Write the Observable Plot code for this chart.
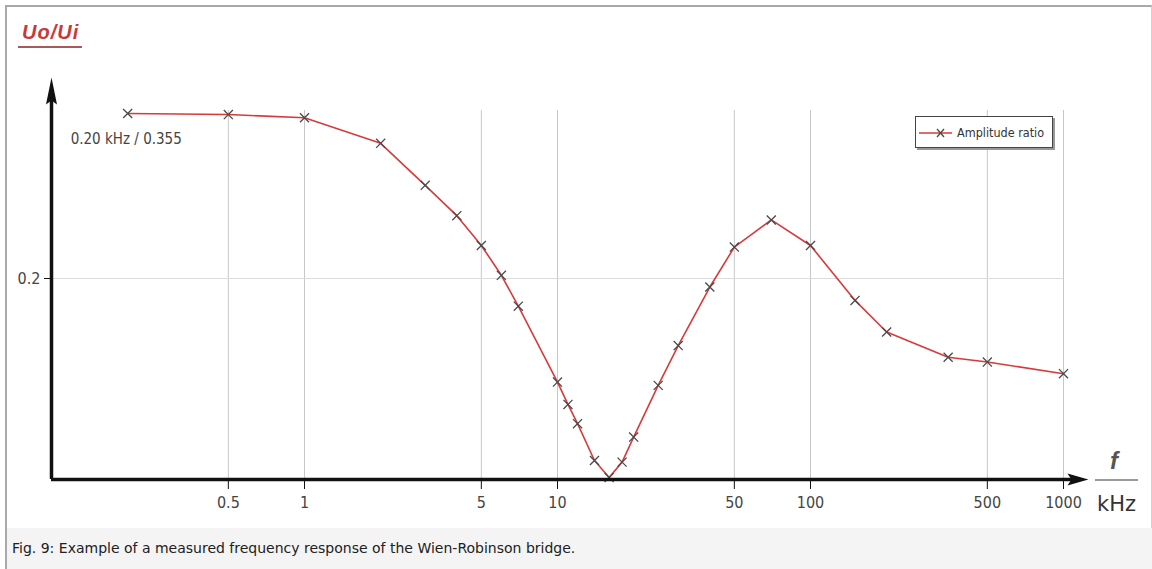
<!DOCTYPE html>
<html>
<head>
<meta charset="utf-8">
<script src="https://cdn.jsdelivr.net/npm/d3@7"></script>
<script src="https://cdn.jsdelivr.net/npm/@observablehq/plot@0.6"></script>
<style>
  html, body { margin: 0; padding: 0; background: #fff; }
  body { width: 1152px; height: 569px; position: relative; overflow: hidden; }
  .narrow { font-family: "Liberation Sans Narrow", "DejaVu Sans Condensed", "Liberation Sans", sans-serif; }
  #frame { position: absolute; left: 5px; top: 5px; width: 1147px; height: 564px; box-sizing: border-box;
           border-left: 2px solid #a9a9a9; border-top: 2px solid #a9a9a9; border-right: 1px solid #d0d0d0; }
  #title { position: absolute; left: 22px; top: 22px; font: italic bold 20px/1 "Liberation Sans", sans-serif;
           letter-spacing: 1px; color: #c83a3a; }
  #titleRule { position: absolute; left: 18px; top: 46px; width: 64px; height: 2px; background: #a85a5a; }
  #chart { position: absolute; left: 7px; top: 62px; }
  #legend { position: absolute; left: 915px; top: 116px; width: 138px; height: 32px; box-sizing: border-box;
            border: 1px solid #444; box-shadow: 2px 2px 0 #999; background: #fff; }
  #legend svg { position: absolute; left: 1px; top: 0; }
  #legend span { position: absolute; left: 41px; top: 8px; font-size: 12.5px; line-height: 15px; color: #333; white-space: nowrap; }
  #fLabel { position: absolute; left: 1110px; top: 449px; font: italic bold 24px/1 "Liberation Sans", sans-serif; color: #555; }
  #fRule { position: absolute; left: 1095px; top: 479px; width: 43px; height: 2px; background: #9a9a9a; }
  #unit { position: absolute; left: 1097px; top: 494px; font: 21px/1 "DejaVu Sans", sans-serif; color: #333; }
  #caption { position: absolute; left: 7px; top: 528px; width: 1145px; height: 41px; background: #f4f4f4;
             font: 14px/41px "DejaVu Sans", sans-serif; color: #202122; padding-left: 5px; box-sizing: border-box; }
</style>
</head>
<body>
<div id="frame"></div>
<div id="title">Uo/Ui</div>
<div id="titleRule"></div>
<div id="chart"></div>
<div id="legend" class="narrow"></div>
<div id="fLabel">f</div>
<div id="fRule"></div>
<div id="unit">kHz</div>
<div id="caption">Fig. 9: Example of a measured frequency response of the Wien-Robinson bridge.</div>
<script>
// ---- data ----
const freqKHz = [0.2, 0.5, 1, 2, 3, 4, 5, 6, 7, 10, 11, 12, 14, 16, 18, 20, 25, 30, 40, 50, 70, 100, 150, 200, 350, 500, 1000];
const amplitudeRatio = [0.355, 0.354, 0.351, 0.327, 0.2875, 0.259, 0.231, 0.203, 0.174, 0.1027, 0.0817, 0.0636, 0.029, 0.013,
                        0.0275, 0.051, 0.0996, 0.137, 0.192, 0.2295, 0.255, 0.231, 0.1794, 0.1497, 0.126, 0.1215, 0.1106];
const xTicks = [0.5, 1, 5, 10, 50, 100, 500, 1000];
const xTickLabels = ["0.5", "1", "5", "10", "50", "100", "500", "1000"];
const yTicks = [0.2];
const yTickLabels = ["0.2"];
const seriesName = "Amplitude ratio";

// axis extents (domain of the drawing and arrow tips)
const xDomain = [0.1, 1000];
const yDomain = [0.01118, 0.35782];
const xArrowTip = 1255;
const yArrowTip = 0.3888;

const data = freqKHz.map((f, i) => ({f, v: amplitudeRatio[i]}));
const first = data[0];
const xTickData = xTicks.map((t, i) => ({t, label: xTickLabels[i]}));

const arrowUp = {draw(ctx) { ctx.moveTo(0, 0); ctx.lineTo(5.5, 27); ctx.lineTo(0, 23); ctx.lineTo(-5.5, 27); ctx.closePath(); }};
const arrowRight = {draw(ctx) { ctx.moveTo(0, 0); ctx.lineTo(-21, -6); ctx.lineTo(-17, 0); ctx.lineTo(-21, 6); ctx.closePath(); }};

const narrowFont = '"Liberation Sans Narrow", "DejaVu Sans Condensed", "Liberation Sans", sans-serif';

const chart = Plot.plot({
  width: 1144,
  height: 466,
  marginLeft: 44,
  marginRight: 88,
  marginTop: 48,
  marginBottom: 49,
  x: {type: "log", domain: xDomain},
  y: {domain: yDomain},
  style: {fontFamily: narrowFont, fontSize: "16px", color: "#111", background: "transparent", overflow: "visible"},
  marks: [
    Plot.gridX(xTicks, {stroke: "#c8c8c8", strokeOpacity: 1}),
    Plot.gridY(yTicks, {stroke: "#dcdcdc", strokeOpacity: 1}),
    Plot.line(data, {x: "f", y: "v", stroke: "#d83a3a", strokeWidth: 1.6}),
    Plot.dot(data, {x: "f", y: "v", symbol: "times", r: 4.2, stroke: "#4a4a4a", strokeWidth: 1.3}),
    Plot.text([first], {x: "f", y: "v", text: d => `${d.f.toFixed(2)} kHz / ${d.v}`, dx: -57, dy: 26,
                        textAnchor: "start", fill: "#444", fontSize: 15}),
    // axes lines with arrows
    Plot.ruleX([xDomain[0]], {y1: yDomain[0], y2: yArrowTip * 0.96, stroke: "#111", strokeWidth: 3.5}),
    Plot.ruleY([yDomain[0]], {x1: xDomain[0], x2: xArrowTip * 0.9, stroke: "#111", strokeWidth: 3.5}),
    Plot.dot([{x: xDomain[0], y: yArrowTip}], {x: "x", y: "y", symbol: arrowUp, fill: "#111", stroke: "none"}),
    Plot.dot([{x: xArrowTip, y: yDomain[0]}], {x: "x", y: "y", symbol: arrowRight, fill: "#111", stroke: "none"}),
    Plot.axisX({ticks: xTicks, tickFormat: () => "", tickSize: 10, stroke: "#111", label: null}),
    Plot.text(xTickData, {x: "t", frameAnchor: "bottom", dy: 17, lineAnchor: "top", text: "label", fill: "#444", fontSize: 16}),
    Plot.axisY({ticks: yTicks, tickFormat: (d, i) => yTickLabels[yTicks.indexOf(d)], tickSize: 7, tickPadding: 4,
                stroke: "#111", fill: "#444", fontSize: 16, label: null})
  ]
});
document.getElementById("chart").appendChild(chart);

// legend
const legend = document.getElementById("legend");
legend.innerHTML = `<svg width="38" height="30" viewBox="0 0 38 30">
  <line x1="2" x2="35" y1="16" y2="16" stroke="#d83a3a" stroke-width="1.6"/>
  <path d="M20,12 L27,20 M27,12 L20,20" stroke="#4a4a4a" stroke-width="1.3" fill="none"/>
</svg><span></span>`;
legend.querySelector("span").textContent = seriesName;
</script>
</body>
</html>
